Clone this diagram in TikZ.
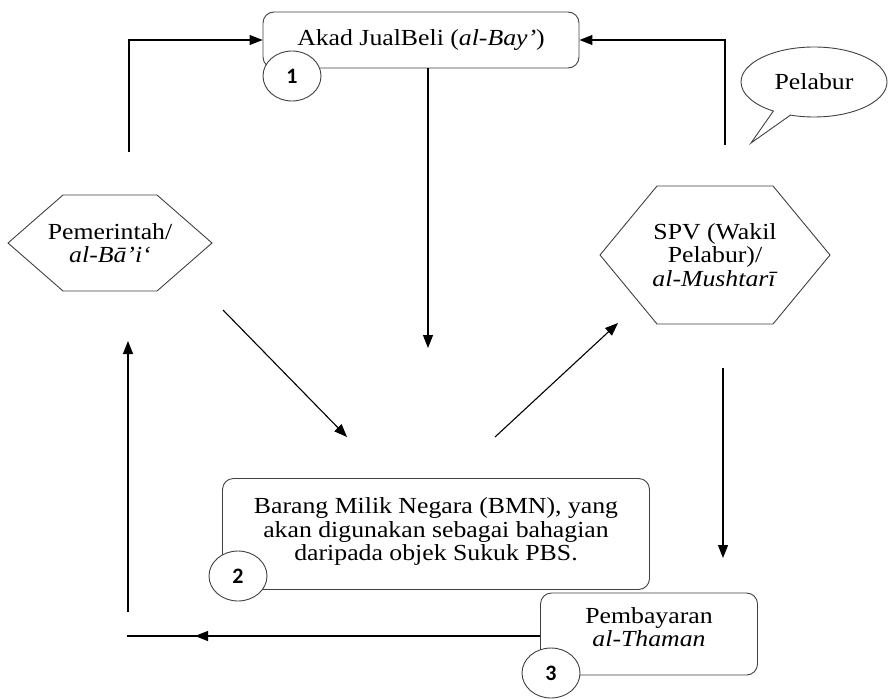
\documentclass[tikz,border=0pt]{standalone}
\usepackage{fontspec}
\setmainfont{Liberation Serif}[FakeStretch=1.12]
\newfontfamily\numfont{Carlito}
\usepackage{tikz}
\usetikzlibrary{shapes.geometric,shapes.callouts,arrows.meta}

% hexagon round a text node: node, half width, half height, tip
\newcommand{\hexround}[4]{%
	\draw[hexline] (#1.center) ++(-#2,0) -- ++(#4,-#3) -- ++({2*#2-2*#4},0)
		-- ++(#4,#3) -- ++(-#4,#3) -- ++({-2*#2+2*#4},0) -- cycle;}

\tikzset{
	hexline/.style={draw=black!75, line width=0.9pt},
	stepbox/.style={draw=black!75, line width=0.9pt, rounded corners=11pt, align=center,
		inner sep=0pt},
	numcirc/.style={ellipse, draw=black!75, line width=0.9pt, fill=white, inner sep=0pt,
		minimum width=58pt, minimum height=50pt, font=\numfont\fontsize{22}{22}\selectfont\bfseries},
	flow/.style={line width=1.1pt, -{Triangle[length=13pt,width=10pt]}},
}

\begin{document}
\begin{tikzpicture}[x=1pt, y=-1pt, font=\fontsize{23}{23.5}\selectfont]
	\useasboundingbox (0,0) rectangle (890,698);

	\node[stepbox, minimum width=316pt, minimum height=56pt] (akad) at (421,40)
		{Akad JualBeli (\textit{al-Bay’})};
	\node[stepbox, minimum width=427pt, minimum height=111pt] (bmn) at (436,534)
		{Barang Milik Negara (BMN), yang\\ akan digunakan sebagai bahagian\\ daripada objek Sukuk PBS.\\[-14pt]};
	\node[stepbox, minimum width=217pt, minimum height=82pt, fill=white] (bayar) at (649,634)
		{Pembayaran\\ \textit{al-Thaman}\\[-10pt]};

	\node[align=center] (gov) at (110,243) {Pemerintah/\\ \textit{al-Bā’i‘}};
	\hexround{gov}{102}{48}{55}
	\node[align=center] (spv) at (715,255) {SPV (Wakil\\ Pelabur)/\\ \textit{al-Mushtarī}};
	\hexround{spv}{115}{69}{57}

	\coordinate (tail) at (751,143);
	\node[ellipse callout, draw=black!75, line width=0.9pt, minimum width=146pt,
		minimum height=70pt, inner sep=0pt, callout absolute pointer={(tail)}] (pelabur)
		at (814,82) {Pelabur};

	\foreach \n/\x/\y in {1/292/76, 2/238/576, 3/551/673}
		\node[numcirc] (c\n) at (\x,\y) {\n};

	% arrows
	\coordinate (govup) at (129,152);
	\coordinate (spvup) at (725,145);
	\coordinate (akaddn) at (428,348);
	\coordinate (g1) at (223,310);
	\coordinate (b1) at (347,437);
	\coordinate (b2) at (495,437);
	\coordinate (s1) at (618,323);
	\coordinate (spvdn) at (723,368);
	\coordinate (bayartip) at (723,558);
	\coordinate (lefttip) at (195,636);
	\coordinate (leftend) at (127,636);
	\coordinate (upstart) at (128,612);
	\coordinate (uptip) at (128,341);

	\draw[flow] (govup) |- (akad.west);
	\draw[flow] (spvup) |- (akad.east);
	\draw[flow] (akad.south -| akaddn) -- (akaddn);
	\draw[flow] (g1) -- (b1);
	\draw[flow] (b2) -- (s1);
	\draw[flow] (spvdn) -- (bayartip);
	\draw[line width=1.1pt] (bayar.west |- leftend) -- (leftend);
	\draw[flow] (bayar.west |- lefttip) -- (lefttip);
	\draw[flow] (upstart) -- (uptip);
\end{tikzpicture}
\end{document}
